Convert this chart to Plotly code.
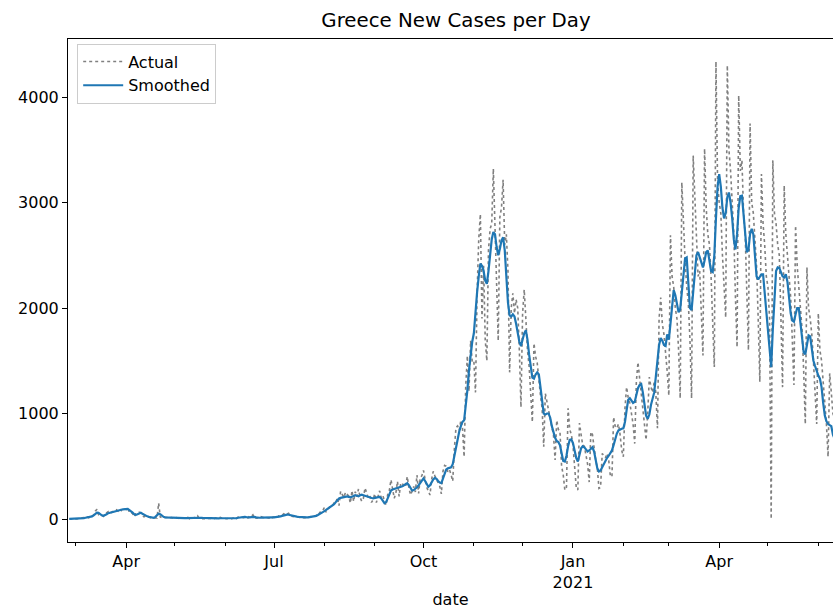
import pandas as pd
import plotly.graph_objects as go

# Daily new COVID-19 cases in Greece, starting 26 Feb 2020
start_date = "2020-02-26"

actual = [
    # Feb 2020 (26-29)
    1, 2, 0, 0,
    # Mar 2020
    0, 1, 3, 2, 12, 10, 14, 21, 11, 24, 27, 40, 75, 92, 40, 31, 35, 25, 46, 58,
    71, 55, 64, 71, 78, 87, 74, 95, 81, 102, 98,
    # Apr 2020
    90, 110, 60, 62, 50, 20, 50, 55, 65, 56, 30, 20, 28, 25, 15, 12, 10, 10, 15, 10,
    150, 20, 12, 14, 10, 11, 16, 10, 14, 8,
    # May 2020
    4, 13, 10, 2, 11, 8, 9, 10, 15, 2, 6, 12, 14, 10, 30, 4, 2, 6, 5, 3,
    4, 6, 1, 5, 3, 10, 2, 6, 16, 8, 5,
    # Jun 2020
    2, 3, 5, 4, 2, 10, 15, 5, 20, 25, 18, 12, 16, 9, 10, 30, 25, 40, 8, 10,
    12, 11, 22, 12, 10, 15, 13, 8, 22, 14,
    # Jul 2020
    20, 14, 12, 30, 28, 35, 50, 38, 45, 55, 30, 25, 22, 19, 21, 18, 16, 20, 12, 15,
    10, 22, 19, 25, 24, 26, 35, 30, 57, 75, 78,
    # Aug 2020
    110, 65, 95, 110, 121, 124, 153, 151, 203, 126, 262, 236, 203, 254, 230, 217,
    150, 269, 167, 259, 212, 284, 203, 168, 195, 294, 250, 201, 220, 157, 182,
    # Sep 2020
    239, 156, 217, 267, 201, 224, 169, 132, 235, 273, 372, 257, 196, 247, 357,
    215, 342, 338, 304, 308, 403, 300, 228, 263, 309, 256, 417, 242, 389, 411,
    # Oct 2020
    460, 376, 300, 263, 227, 374, 452, 410, 380, 338, 310, 238, 453, 508, 500,
    447, 468, 420, 358, 665, 866, 882, 841, 935, 865, 590, 1259, 1547, 1211, 1690, 1490,
    # Nov 2020
    1500, 1200, 2150, 2650, 2890, 1900, 2400, 1700, 1500, 2550, 2750, 2800, 3320,
    2830, 2400, 1690, 2860, 2950, 3215, 2600, 2700, 2350, 1390, 2000, 2140, 1950,
    2080, 2000, 1600, 1060,
    # Dec 2020
    1950, 2175, 1900, 1600, 1450, 1230, 920, 1665, 1540, 1480, 1300, 1170, 1050,
    685, 1190, 1100, 1050, 930, 870, 800, 560, 935, 850, 830, 500, 420, 275, 300,
    1050, 850, 800,
    # Jan 2021
    700, 450, 300, 275, 910, 800, 700, 690, 600, 520, 350, 825, 800, 650, 560, 480,
    290, 300, 620, 600, 580, 620, 560, 410, 400, 965, 880, 860, 900, 800, 650,
    # Feb 2021
    590, 1050, 1250, 1150, 1100, 1000, 900, 715, 1300, 1485, 1340, 1200, 1100, 950,
    750, 1000, 1345, 1250, 1200, 1300, 1200, 860, 1900, 2100, 1850, 1750, 1600, 1400,
    # Mar 2021
    1170, 2690, 2300, 2200, 2000, 1900, 1600, 1145, 3190, 2800, 2450, 2200, 2050,
    1700, 1145, 3445, 3000, 2650, 2300, 2350, 1900, 1550, 3510, 2950, 2700, 2600,
    2300, 1800, 1440, 4335, 3200,
    # Apr 2021
    3000, 2900, 2500, 2200, 1910, 4300, 3500, 3300, 3000, 2700, 2100, 1630, 4015,
    3300, 3400, 2900, 2700, 2000, 1600, 3750, 3000, 2900, 2600, 2400, 1900, 1300,
    3270, 2800, 2600, 2300,
    # May 2021
    2200, 1900, 0, 3400, 2900, 2800, 2600, 2500, 1900, 1250, 3160, 2700, 2500, 2300,
    2100, 1700, 1270, 2780, 2400, 2200, 2000, 1800, 1400, 900, 2385, 2000, 1900,
    1750, 1500, 1200, 900,
    # Jun 2021 (1-16)
    1950, 1600, 1500, 1300, 1100, 900, 590, 1380, 1200, 1000, 950, 800, 600, 400,
    900, 800,
]

smoothed = [
    # Feb 2020 (26-29)
    1, 1, 1, 1,
    # Mar 2020
    1, 1, 2, 3, 5, 8, 12, 15, 18, 20, 25, 35, 50, 60, 58, 45, 35, 30, 35, 45,
    55, 60, 65, 70, 75, 80, 82, 85, 88, 92, 95,
    # Apr 2020
    98, 95, 85, 75, 60, 45, 40, 45, 55, 60, 50, 40, 30, 25, 20, 15, 12, 12, 20, 35,
    50, 45, 30, 20, 15, 14, 13, 12, 12, 11,
    # May 2020
    10, 10, 9, 9, 8, 8, 8, 9, 10, 11, 12, 12, 13, 14, 15, 14, 12, 10, 9, 8,
    7, 6, 6, 5, 5, 5, 6, 6, 7, 7, 6,
    # Jun 2020
    5, 4, 4, 3, 3, 4, 6, 8, 12, 15, 18, 20, 20, 18, 15, 15, 18, 22, 20, 15,
    12, 12, 14, 15, 13, 12, 12, 13, 14, 15,
    # Jul 2020
    15, 16, 18, 20, 25, 30, 35, 40, 42, 40, 35, 30, 26, 24, 22, 20, 18, 17, 16, 15,
    15, 16, 18, 20, 22, 25, 30, 38, 45, 55, 65,
    # Aug 2020
    75, 85, 95, 105, 115, 125, 140, 160, 180, 195, 200, 205, 210, 215, 215, 210,
    205, 210, 220, 225, 220, 215, 225, 230, 225, 220, 210, 205, 200, 195, 195,
    # Sep 2020
    200, 205, 210, 210, 195, 170, 150, 160, 200, 240, 270, 280, 285, 290, 295,
    300, 300, 310, 320, 335, 340, 320, 290, 270, 275, 285, 300, 320, 345, 370,
    # Oct 2020
    385, 360, 330, 305, 320, 350, 375, 390, 380, 360, 345, 340, 380, 430, 470,
    480, 485, 490, 520, 600, 690, 775, 830, 880, 920, 935, 1060, 1220, 1410, 1550, 1680,
    # Nov 2020
    1760, 1980, 2150, 2300, 2420, 2400, 2350, 2260, 2230, 2350, 2500, 2650, 2720,
    2700, 2580, 2500, 2560, 2640, 2670, 2550, 2300, 2050, 1930, 1920, 1940, 1920,
    1850, 1760, 1680, 1640,
    # Dec 2020
    1700, 1760, 1790, 1700, 1560, 1430, 1340, 1330, 1370, 1390, 1370, 1250, 1100,
    1000, 990, 1000, 1000, 960, 880, 810, 770, 740, 730, 700, 620, 550, 545, 600,
    690, 750, 755,
    # Jan 2021
    720, 650, 580, 545, 600, 670, 690, 680, 660, 640, 650, 670, 680, 640, 560, 480,
    450, 460, 490, 520, 560, 580, 600, 630, 650, 700, 760, 810, 840, 850, 855,
    # Feb 2021
    860, 920, 1030, 1130, 1145, 1120, 1100, 1110, 1180, 1240, 1270, 1280, 1200, 1080,
    980, 950, 990, 1080, 1150, 1200, 1350, 1500, 1650, 1715, 1690, 1650, 1640, 1750,
    # Mar 2021
    1700, 1850, 2050, 2170, 2120, 2020, 1960, 1990, 2150, 2350, 2470, 2480, 2250,
    2000, 1980, 2150, 2350, 2500, 2530, 2480, 2420, 2385, 2450, 2530, 2545, 2450,
    2350, 2340, 2500, 2850, 3150,
    # Apr 2021
    3270, 3150, 2950, 2850, 2900, 3050, 3095, 3000, 2850, 2650, 2555, 2700, 2950,
    3060, 3065, 2900, 2700, 2530, 2550, 2700, 2750, 2700, 2500, 2300, 2270, 2300,
    2320, 2320, 2150, 1950,
    # May 2021
    1750, 1600, 1440, 1800, 2150, 2350, 2385, 2380, 2340, 2300, 2290, 2320, 2250,
    2100, 1950, 1880, 1870, 1940, 2000, 2000, 1850, 1680, 1580, 1560, 1650, 1740,
    1730, 1620, 1500, 1450, 1400,
    # Jun 2021 (1-16)
    1360, 1330, 1250, 1100, 980, 925, 900, 890, 880, 800, 750, 720, 700, 690, 680, 670,
]

x_tick_dates = ["2020-04-01", "2020-07-01", "2020-10-01", "2021-01-01", "2021-04-01"]
x_tick_labels = ["Apr", "Jul", "Oct", "Jan<br>2021", "Apr"]
y_tick_values = [0, 1000, 2000, 3000, 4000]

dates = pd.date_range(start_date, periods=len(actual), freq="D")

FONT = "DejaVu Sans"
BLACK = "#000000"
TEXT_SIZE = 16

fig = go.Figure()
fig.add_trace(go.Scatter(
    x=dates, y=actual, name="Actual", mode="lines",
    line=dict(color="#808080", width=1.6, dash="dot"),
))
fig.add_trace(go.Scatter(
    x=dates, y=smoothed, name="Smoothed", mode="lines",
    line=dict(color="#1f77b4", width=2.2),
))

fig.update_layout(
    width=833, height=609,
    margin=dict(l=68, r=0, t=39, b=67),
    paper_bgcolor="white", plot_bgcolor="white",
    font=dict(family=FONT, size=TEXT_SIZE, color=BLACK),
    title=dict(
        text="Greece New Cases per Day",
        xref="container", x=456 / 833, xanchor="center",
        yref="container", y=1 - 20 / 609, yanchor="middle",
        font=dict(family=FONT, size=19.8, color=BLACK),
    ),
    legend=dict(
        x=0.012, y=0.991, xanchor="left", yanchor="top",
        itemwidth=40,
        bgcolor="rgba(255,255,255,0.8)", bordercolor="#cccccc", borderwidth=1,
        font=dict(family=FONT, size=TEXT_SIZE, color=BLACK),
    ),
    showlegend=True,
)

fig.update_xaxes(
    range=["2020-02-25 05:00", "2021-06-10 01:00"],
    tickmode="array", tickvals=x_tick_dates, ticktext=x_tick_labels,
    ticks="outside", ticklen=5, tickwidth=1, tickcolor=BLACK,
    minor=dict(ticks="outside", ticklen=3, tickwidth=1, tickcolor=BLACK,
               dtick="M1", tick0="2020-03-01", showgrid=False),
    showline=True, linecolor=BLACK, linewidth=1, mirror=True,
    showgrid=False, zeroline=False, automargin=False,
    title=dict(text="date", standoff=4, font=dict(family=FONT, size=TEXT_SIZE)),
)
fig.update_yaxes(
    range=[-218, 4550],
    tickmode="array", tickvals=y_tick_values,
    ticks="outside", ticklen=5, tickwidth=1, tickcolor=BLACK,
    showline=True, linecolor=BLACK, linewidth=1, mirror=False,
    showgrid=False, zeroline=False, automargin=False,
)

fig.write_html("out.html")
